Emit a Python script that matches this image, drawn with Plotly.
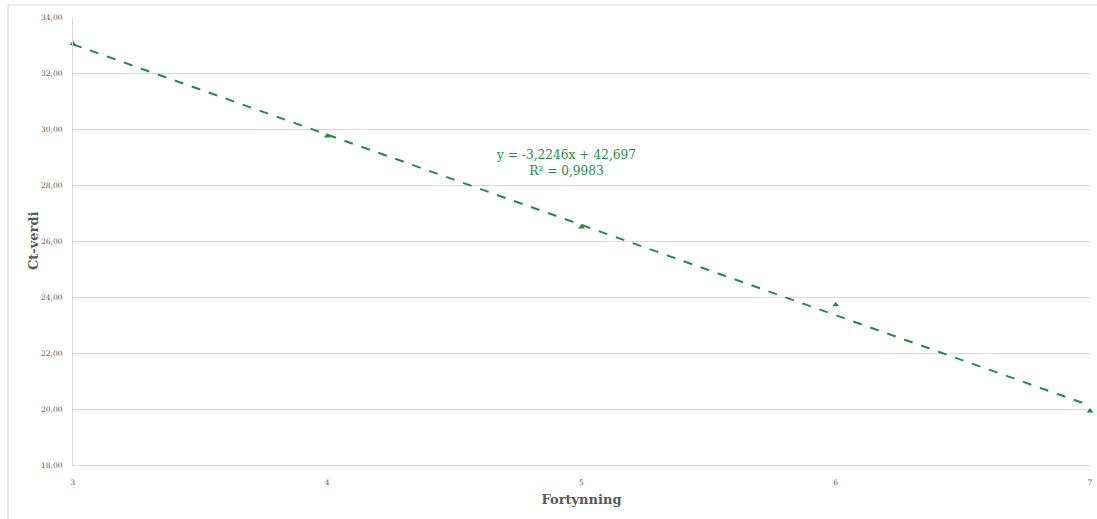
import plotly.graph_objects as go

# Data
fortynning = [3, 4, 5, 6, 7]
ct_verdi = [33.05, 29.75, 26.50, 23.72, 19.93]
slope = -3.2246
intercept = 42.697
r2_text = "R² = 0,9983"
eq_text = "y = -3,2246x + 42,697"
y_ticks = [18, 20, 22, 24, 26, 28, 30, 32, 34]

green = "#1e8e46"
grey_text = "#595959"
font_family = "DejaVu Serif, Liberation Serif, serif"

trend_x = [fortynning[0], fortynning[-1]]
trend_y = [slope * x + intercept for x in trend_x]

fig = go.Figure()
fig.add_trace(go.Scatter(
    x=trend_x, y=trend_y, mode="lines",
    line=dict(color=green, width=2, dash="dash"),
    hoverinfo="skip", showlegend=False, cliponaxis=False,
))
fig.add_trace(go.Scatter(
    x=fortynning, y=ct_verdi, mode="markers",
    marker=dict(symbol="triangle-up", size=6, color=green),
    showlegend=False, cliponaxis=False,
))

fig.add_annotation(
    x=4.94, y=28.8, xref="x", yref="y",
    text=eq_text + "<br>" + r2_text,
    showarrow=False, align="center",
    font=dict(family=font_family, size=12.2, color=green),
)

# y-axis title
fig.add_annotation(
    x=-0.0393, y=0.5, xref="paper", yref="paper",
    text="<b>Ct-verdi</b>", textangle=-90, showarrow=False,
    xanchor="center", yanchor="middle",
    font=dict(family=font_family, size=13, color=grey_text),
)

# outer chart frame (left & top)
fig.add_shape(type="rect", xref="paper", yref="paper",
              x0=-0.0639, x1=1.2, y0=-0.3, y1=1.0268,
              line=dict(color="#d9d9d9", width=1), layer="below")

fig.update_layout(
    width=1097, height=519,
    margin=dict(l=73, r=7, t=17, b=54, autoexpand=False),
    paper_bgcolor="white", plot_bgcolor="white",
    separators=", ",
    font=dict(family=font_family, color=grey_text),
    xaxis=dict(
        range=[3, 7], tickvals=fortynning, showgrid=False,
        showline=True, linecolor="#d9d9d9", linewidth=1,
        ticks="", tickfont=dict(size=7.5, color=grey_text),
        ticklabelstandoff=10, automargin=False,
        title=dict(text="<b>Fortynning</b>", font=dict(size=13, color=grey_text), standoff=8),
        zeroline=False,
    ),
    yaxis=dict(
        range=[18, 34], tickvals=y_ticks, tickformat=".2f",
        showgrid=True, gridcolor="#d9d9d9", gridwidth=1,
        showline=True, linecolor="#d9d9d9", linewidth=1,
        ticks="", tickfont=dict(size=7.5, color=grey_text),
        ticklabelstandoff=8, automargin=False,
        zeroline=False,
    ),
)

fig.write_html("out.html", config={"displayModeBar": False},
               post_script="document.body.style.margin='0px';")
